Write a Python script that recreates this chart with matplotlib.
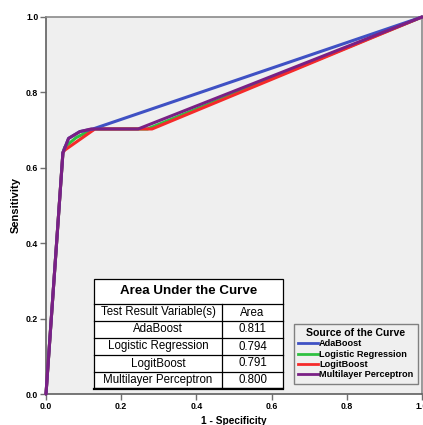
import matplotlib
matplotlib.use("Agg")
import matplotlib.pyplot as plt
from matplotlib.lines import Line2D
from matplotlib.patches import Rectangle

plt.rcParams['font.family'] = ['Liberation Sans', 'DejaVu Sans']

# ROC curve data (1 - specificity, sensitivity)
ada_fpr = [0.0, 0.045, 0.06, 0.09, 0.125, 1.0]
ada_tpr = [0.0, 0.64, 0.678, 0.696, 0.703, 1.0]
lr_fpr = [0.0, 0.045, 0.05, 0.08, 0.11, 0.13, 0.27, 1.0]
lr_tpr = [0.0, 0.64, 0.655, 0.68, 0.695, 0.703, 0.703, 1.0]
lb_fpr = [0.0, 0.045, 0.05, 0.13, 0.282, 1.0]
lb_tpr = [0.0, 0.64, 0.647, 0.703, 0.703, 1.0]
mlp_fpr = [0.0, 0.045, 0.06, 0.09, 0.12, 0.245, 1.0]
mlp_tpr = [0.0, 0.64, 0.678, 0.696, 0.703, 0.703, 1.0]

series_names = ["AdaBoost", "Logistic Regression", "LogitBoost", "Multilayer Perceptron"]
auc_values = ["0.811", "0.794", "0.791", "0.800"]
colors = ["#3f51c4", "#2fc040", "#f52a2a", "#7a2085"]

xticks = [0.0, 0.2, 0.4, 0.6, 0.8, 1.0]
yticks = [0.0, 0.2, 0.4, 0.6, 0.8, 1.0]

W, H = 423, 425
fig = plt.figure(figsize=(W / 100, H / 100), dpi=100)
fig.patch.set_facecolor('white')

def fx(x):
    return x / W

def fy(y):
    return 1 - y / H

ax_l, ax_r, ax_t, ax_b = 46, 422, 17, 394
ax = fig.add_axes([fx(ax_l), fy(ax_b), (ax_r - ax_l) / W, (ax_b - ax_t) / H])
ax.set_facecolor('#efefef')

data = [(ada_fpr, ada_tpr), (lr_fpr, lr_tpr), (lb_fpr, lb_tpr), (mlp_fpr, mlp_tpr)]
order = [1, 2, 0, 3]
for i in order:
    xs, ys = data[i]
    ax.plot(xs, ys, color=colors[i], lw=2.2, solid_joinstyle='round',
            solid_capstyle='round', zorder=3 + order.index(i), clip_on=False)

ax.set_xlim(0, 1)
ax.set_ylim(0, 1)
ax.set_xticks(xticks)
ax.set_yticks(yticks)
ax.set_xticklabels([f"{v:.1f}" for v in xticks], fontsize=6.3, fontweight='bold')
ax.set_yticklabels([f"{v:.1f}" for v in yticks], fontsize=6.3, fontweight='bold')
ax.tick_params(direction='out', length=4, width=1, color='#707070', pad=1.5)
for s in ax.spines.values():
    s.set_color('#8a8a8a')
    s.set_linewidth(1.2)
ax.spines['left'].set_color('#606060')
ax.spines['bottom'].set_color('#606060')

ax.set_xlabel("1 - Specificity", fontsize=7.3, fontweight='bold', labelpad=4)
ax.set_ylabel("Sensitivity", fontsize=8, fontweight='bold', labelpad=4)

# Legend
handles = [Line2D([0], [0], color=c, lw=2) for c in colors]
leg = ax.legend(handles, series_names, title="Source of the Curve",
                loc='upper left', bbox_to_anchor=(fx(289), fy(319)),
                bbox_transform=fig.transFigure,
                prop={'size': 6.6, 'weight': 'bold'},
                title_fontproperties={'size': 7.6, 'weight': 'bold'},
                handlelength=2.2, handletextpad=0.1, labelspacing=0.14,
                borderpad=0.5, frameon=True, fancybox=False,
                edgecolor='#808080', facecolor='#efefef', framealpha=1)
leg.get_frame().set_linewidth(1.0)
leg.set_zorder(10)

# AUC table
tl, tr, tt = 94, 283, 279
rows = [304, 321, 338, 355, 372, 388]
cdiv = 222
tab_zorder = 20
fig.patches.append(Rectangle((fx(tl), fy(rows[-1])), (tr - tl) / W, (rows[-1] - tt) / H,
                             transform=fig.transFigure, facecolor='white',
                             edgecolor='black', lw=0.9, zorder=tab_zorder))

def hline(y, lw=0.9):
    fig.lines.append(Line2D([fx(tl), fx(tr)], [fy(y), fy(y)], transform=fig.transFigure,
                            color='black', lw=lw, zorder=tab_zorder + 1))

for y in rows[:-1]:
    hline(y)
hline(rows[-1] + 0.5, lw=1.6)
fig.lines.append(Line2D([fx(cdiv), fx(cdiv)], [fy(rows[0]), fy(rows[-1])],
                        transform=fig.transFigure, color='black', lw=0.9,
                        zorder=tab_zorder + 1))

fig.text(fx((tl + tr) / 2), fy((tt + rows[0]) / 2), "Area Under the Curve",
         ha='center', va='center', fontsize=9.6, fontweight='bold', zorder=tab_zorder + 2)
fig.text(fx((tl + cdiv) / 2), fy((rows[0] + rows[1]) / 2), "Test Result Variable(s)",
         ha='center', va='center', fontsize=8.3, zorder=tab_zorder + 2)
fig.text(fx((cdiv + tr) / 2), fy((rows[0] + rows[1]) / 2), "Area",
         ha='center', va='center', fontsize=8.3, zorder=tab_zorder + 2)
for k, (name, val) in enumerate(zip(series_names, auc_values)):
    yc = (rows[k + 1] + rows[k + 2]) / 2
    fig.text(fx((tl + cdiv) / 2), fy(yc), name, ha='center', va='center',
             fontsize=8.3, zorder=tab_zorder + 2)
    fig.text(fx((cdiv + tr) / 2), fy(yc), val, ha='center', va='center',
             fontsize=8.3, zorder=tab_zorder + 2)

fig.savefig("out.png", dpi=100)
